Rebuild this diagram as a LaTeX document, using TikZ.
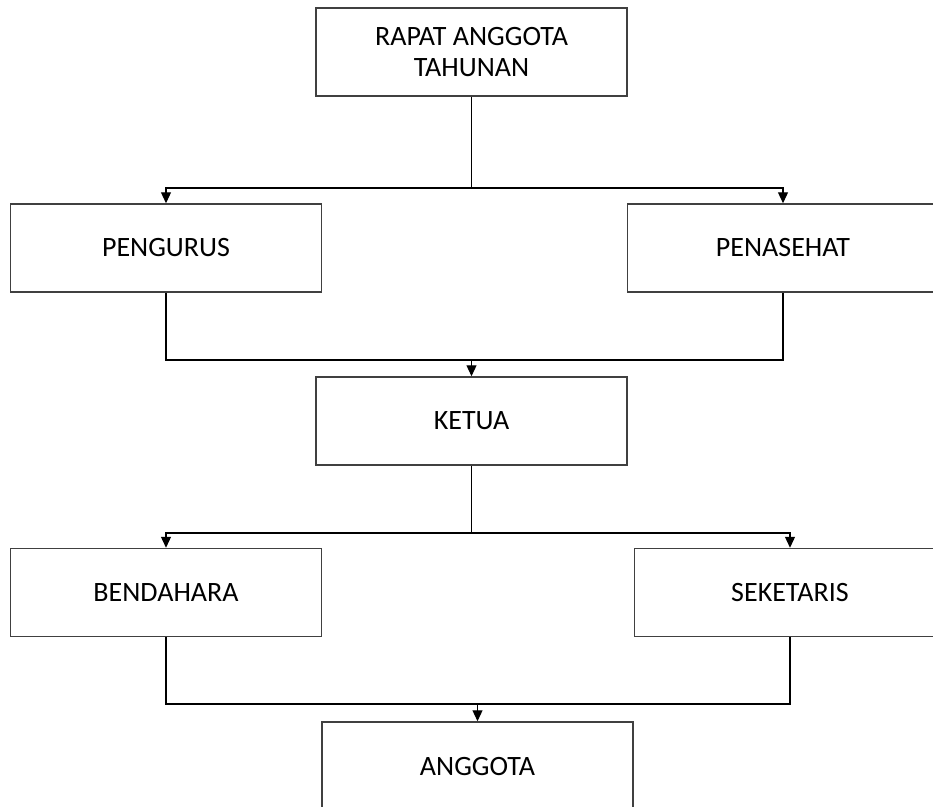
\documentclass[tikz,border=0pt]{standalone}
\usepackage{fontspec}
\setmainfont{Carlito}
\usepackage{tikz}
\usetikzlibrary{arrows.meta}

\begin{document}
\begin{tikzpicture}[x=1pt,y=-1pt,>={Triangle[length=11pt,width=10pt]},line width=1.2pt]
\tikzstyle{every node}=[font=\fontsize{28}{31}\selectfont]
\tikzstyle{block}=[draw=black!75,fill=white,minimum width=311pt,minimum height=88pt,inner sep=0pt,align=center,line width=1.5pt]
\fill[white] (0,0) rectangle (933,806);
\clip (0,0) rectangle (933,806);
\node[block] (rapat)     at (471.5,52)  {RAPAT ANGGOTA\\TAHUNAN};
\node[block] (pengurus)  at (166,248)   {PENGURUS};
\node[block] (penasehat) at (783,248)   {PENASEHAT};
\node[block] (ketua)     at (471.5,421) {KETUA};
\node[block] (bendahara) at (166,592.5) {BENDAHARA};
\node[block] (seketaris) at (790,592.5) {SEKETARIS};
\node[block] (anggota)   at (477.5,766) {ANGGOTA};
% junctions
\coordinate (j1) at (471.5,188);
\coordinate (j2) at (471.5,360);
\coordinate (j3) at (471.5,533);
\coordinate (j4) at (477.5,704);
\draw (rapat) -- (j1);
\draw[->] (j1) -| (pengurus);
\draw[->] (j1) -| (penasehat);
\draw (pengurus) |- (j2);
\draw (penasehat) |- (j2);
\draw[->] (j2) -- (ketua);
\draw (ketua) -- (j3);
\draw[->] (j3) -| (bendahara);
\draw[->] (j3) -| (seketaris);
\draw (bendahara) |- (j4);
\draw (seketaris) |- (j4);
\draw[->] (j4) -- (anggota);
\end{tikzpicture}
\end{document}
